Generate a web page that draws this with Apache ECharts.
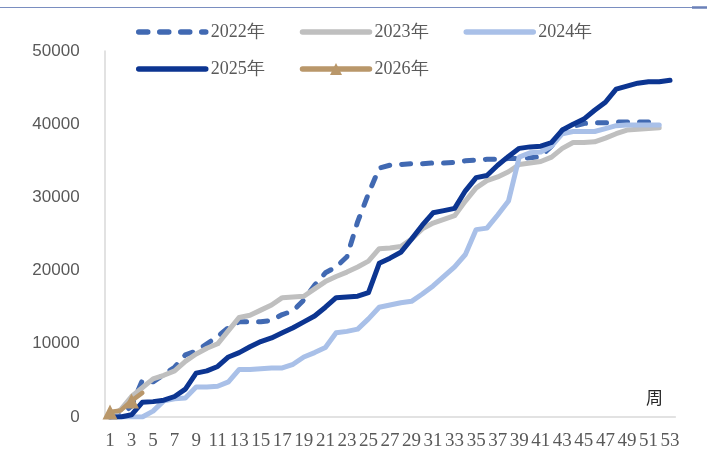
<!DOCTYPE html>
<html>
<head>
<meta charset="utf-8">
<script src="https://cdn.jsdelivr.net/npm/echarts@6/dist/echarts.min.js"></script>
<style>html,body{margin:0;padding:0;background:#fff;}#c{width:716px;height:456px;}</style>
</head>
<body>
<div id="c"></div>
<script>
var weeks = [];
for (var i = 1; i <= 53; i++) weeks.push(String(i));
var yTicks = [0, 10000, 20000, 30000, 40000, 50000];
var seriesNames = ['2022年', '2023年', '2024年', '2025年', '2026年'];

var y2022 = [0,300,1500,5000,4800,5800,6800,8500,9000,10000,11000,12200,13000,13000,13000,13200,14000,14500,16000,18000,19700,20500,21900,26700,30500,34000,34400,34500,34600,34600,34700,34700,34800,35000,35100,35200,35200,35300,35300,35400,35600,37000,39200,39700,40100,40200,40200,40300,40300,40300,40300,40300];
var y2023 = [0,1000,2800,4000,5200,5700,6300,7600,8600,9400,10000,11800,13600,13900,14600,15300,16300,16400,16500,17500,18500,19200,19800,20500,21300,23000,23100,23300,24300,25700,26500,27000,27500,29500,31300,32300,32800,33500,34500,34700,34900,35500,36700,37500,37500,37600,38100,38700,39200,39300,39400,39500];
var y2024 = [0,0,0,0,800,2200,2500,2600,4100,4100,4200,4800,6500,6500,6600,6700,6700,7200,8200,8800,9500,11500,11700,12000,13400,15000,15300,15600,15800,16800,17900,19200,20500,22200,25600,25800,27600,29500,35500,36100,36200,37000,38700,39000,39000,39000,39400,39800,39900,39900,39900,39900];
var y2025 = [0,0,300,2000,2100,2300,2800,3800,6000,6300,6900,8200,8800,9600,10300,10800,11500,12200,13000,13800,15000,16300,16400,16500,17000,21000,21700,22500,24300,26200,27900,28200,28500,30900,32700,33000,34400,35600,36700,36900,37000,37500,39200,40000,40700,41900,43000,44800,45200,45600,45800,45800,46000];
var y2026 = [700,900,2200,3300];

var colors = ['#4169B2', '#BFBFBF', '#A9C0E8', '#0C3591', '#B9976A'];
var values = [y2022, y2023, y2024, y2025, y2026];

var series = seriesNames.map(function (n, i) {
  var s = {
    name: n, type: 'line', data: values[i],
    symbol: 'none', showSymbol: false,
    lineStyle: { color: colors[i], width: 5, cap: 'round', join: 'round' },
    itemStyle: { color: colors[i] },
    emphasis: { disabled: true },
    animation: false
  };
  if (i === 0) s.lineStyle.type = [9, 12];
  if (i === 4) {
    s.symbol = 'triangle'; s.showSymbol = true; s.symbolSize = 15;
    s.lineStyle.width = 4.5;
  }
  return s;
});

function legendItem(n) {
  var item = { name: n };
  if (n !== '2026年') item.itemStyle = { opacity: 0 };
  return item;
}

function legendOf(names, top) {
  return {
    data: names.map(legendItem), top: top, left: 131,
    itemWidth: 67, itemHeight: 15, itemGap: 35,
    textStyle: { color: '#595959', fontSize: 18, fontFamily: 'Liberation Serif' },
    lineStyle: { width: 5.5 }
  };
}

var chart = echarts.init(document.getElementById('c'));
chart.setOption({
  animation: false,
  backgroundColor: '#fff',
  color: colors,
  grid: { left: 104.6, right: 40.6, top: 51, bottom: 39, containLabel: false },
  legend: [
    legendOf(seriesNames.slice(0, 3), 18),
    legendOf(seriesNames.slice(3), 55)
  ],
  xAxis: {
    type: 'category', data: weeks, boundaryGap: true,
    axisLine: { show: true, lineStyle: { color: '#D9D9D9', width: 1.5 } },
    axisTick: { show: false },
    axisLabel: { interval: 1, color: '#595959', fontSize: 19, fontFamily: 'Liberation Serif', margin: 15 },
    splitLine: { show: false }
  },
  yAxis: {
    type: 'value', min: yTicks[0], max: yTicks[yTicks.length - 1], interval: 10000,
    axisLine: { show: true, lineStyle: { color: '#D9D9D9', width: 1.5 } },
    axisTick: { show: false },
    axisLabel: { color: '#595959', fontSize: 17, fontFamily: 'Liberation Sans', margin: 25, formatter: function (v) { return String(v); } },
    splitLine: { show: false }
  },
  graphic: [
    { type: 'line', shape: { x1: 0, y1: 7.5, x2: 707, y2: 7.5 }, style: { stroke: '#7A8EC0', lineWidth: 1.2 } },
    { type: 'line', shape: { x1: 692, y1: 7.5, x2: 707, y2: 7.5 }, style: { stroke: '#6A80B8', lineWidth: 2.5 } },
    { type: 'text', left: 646, top: 389, style: { text: '周', fill: '#262626', fontSize: 17, fontFamily: 'Noto Sans CJK SC' } }
  ],
  series: series
});
</script>
</body>
</html>
